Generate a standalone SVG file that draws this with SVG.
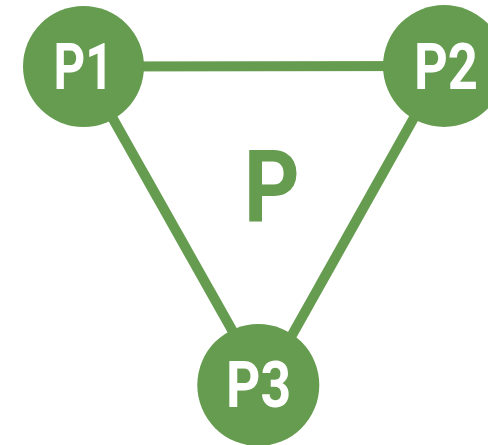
<svg xmlns="http://www.w3.org/2000/svg" width="488" height="445" viewBox="0 0 488 445">
<style>
.edge{stroke:#659c4f;stroke-width:10;fill:none}
.node{fill:#659c4f}
.lbl{font-family:Roboto,"Liberation Sans",sans-serif;font-weight:700;fill:#ffffff;font-size:64px;text-anchor:middle}
.center{font-family:Roboto,"Liberation Sans",sans-serif;font-weight:700;fill:#659c4f;font-size:101px;text-anchor:middle}
</style>
<rect width="488" height="445" fill="#ffffff"/>
<g id="connectors">
<line class="edge" x1="83.5" y1="66.5" x2="443" y2="66"/>
<line class="edge" x1="83.5" y1="66.5" x2="263" y2="385"/>
<line class="edge" x1="443" y1="66" x2="264" y2="385"/>
</g>
<g id="P1">
<circle class="node" cx="83.5" cy="66.5" r="60.5"/>
<text class="lbl" x="83.5" y="89" textLength="60" lengthAdjust="spacingAndGlyphs">P1</text>
</g>
<g id="P2">
<circle class="node" cx="444" cy="66" r="61"/>
<text class="lbl" x="446" y="89" textLength="64" lengthAdjust="spacingAndGlyphs">P2</text>
</g>
<g id="P3">
<circle class="node" cx="258.3" cy="385" r="61"/>
<text class="lbl" x="258.5" y="407.3" textLength="65" lengthAdjust="spacingAndGlyphs">P3</text>
</g>
<g id="center-label">
<text class="center" x="271.7" y="220.7" textLength="56" lengthAdjust="spacingAndGlyphs">P</text>
</g>
</svg>
